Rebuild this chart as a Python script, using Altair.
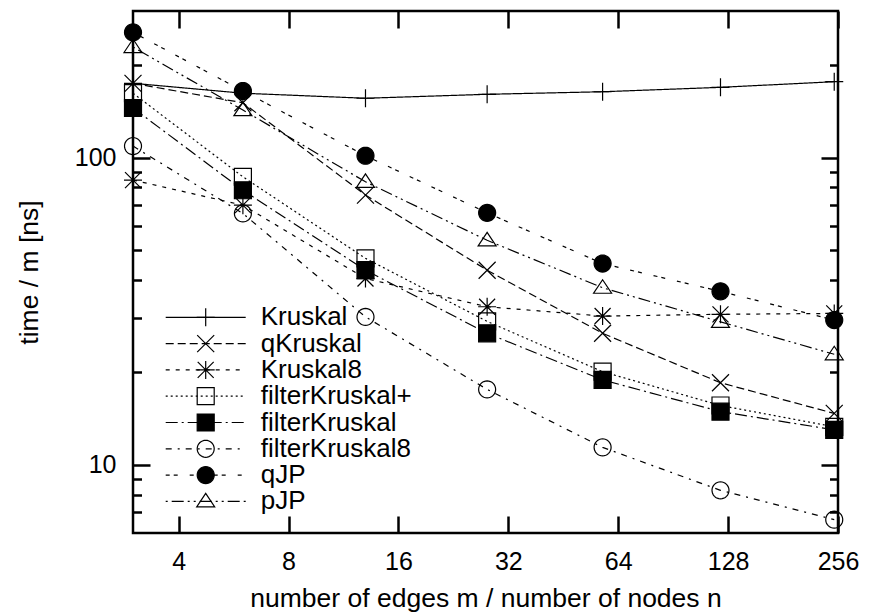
import math
import altair as alt
import pandas as pd

# ---------------- data ----------------
x_vals = [3, 6, 13, 28, 58, 122, 250]
series_names = ["Kruskal", "qKruskal", "Kruskal8", "filterKruskal+",
                "filterKruskal", "filterKruskal8", "qJP", "pJP"]
kruskal = [174.5, 162.0, 156.0, 160.7, 163.8, 169.3, 176.6]
qkruskal = [174.5, 150.8, 75.5, 43.0, 26.8, 18.5, 14.7]
kruskal8 = [84.5, 70.0, 40.4, 32.7, 30.5, 30.9, 31.1]
filterkruskal_plus = [162.0, 86.6, 47.0, 29.3, 20.1, 15.6, 13.3]
filterkruskal = [145.0, 78.3, 43.0, 26.8, 18.9, 14.9, 13.0]
filterkruskal8 = [109.0, 65.8, 30.3, 17.6, 11.4, 8.26, 6.63]
qjp = [255.6, 164.7, 101.4, 66.1, 45.2, 36.7, 29.6]
pjp = [229.0, 142.8, 83.4, 53.8, 37.7, 29.2, 22.9]

x_ticks = [4, 8, 16, 32, 64, 128, 256]
y_major = [10, 100]
y_minor = [7, 8, 9, 20, 30, 40, 50, 60, 70, 80, 90, 200]

series_values = [kruskal, qkruskal, kruskal8, filterkruskal_plus,
                 filterkruskal, filterkruskal8, qjp, pjp]

rows = []
for i, (name, vals) in enumerate(zip(series_names, series_values)):
    for xv, yv in zip(x_vals, vals):
        rows.append({"x": xv, "y": yv, "series": name, "idx": str(i)})
df = pd.DataFrame(rows)
idx_list = [str(i) for i in range(len(series_names))]

# ---------------- styles ----------------
FONT = "Liberation Sans"
W, H = 705, 522

dashes = [[1, 0], [8, 4], [4, 6], [2, 3], [12, 4, 2, 4], [6, 6, 2, 6],
          [4, 4, 4, 12], [2, 4, 12, 4, 2, 4]]

def circle_path(r, n=32):
    pts = [(r * math.cos(2 * math.pi * k / n), r * math.sin(2 * math.pi * k / n)) for k in range(n)]
    return "M" + "L".join(f"{a:.3f},{b:.3f}" for a, b in pts) + "Z"

plus = "M-0.9,0H0.9M0,-0.9V0.9"
cross = "M-0.85,-0.85L0.85,0.85M-0.85,0.85L0.85,-0.85"
star = "M-0.9,0H0.9M0,-0.9V0.9M-0.8,-0.8L0.8,0.8M-0.8,0.8L0.8,-0.8"
square = "M-0.85,-0.85H0.85V0.85H-0.85Z"
circ = circle_path(0.85)
tri = "M0,-0.8L0.9,0.55L-0.9,0.55Z"
shapes = [plus, cross, star, square, square, circ, circ, tri]
fills = ["transparent", "transparent", "transparent", "transparent",
         "black", "transparent", "black", "transparent"]
strokes = ["black"] * len(series_names)

xscale = alt.Scale(type="log", base=2, domain=[3, 256], nice=False)
yscale = alt.Scale(type="log", domain=[6, 300], nice=False)

LX, LY = 59.7, 293.3
leg_common = dict(title=None, orient="none", legendX=LX, legendY=LY,
                  symbolSize=400, symbolStrokeWidth=1.2, symbolStrokeColor="black",
                  labelFontSize=26, labelFont=FONT, rowPadding=0.3, padding=0)

legA = alt.Legend(symbolType="M-4,0H4", labelOffset=42, labelColor="black",
                  symbolFillColor="transparent", **leg_common)
legB = alt.Legend(labelOffset=42, labelExpr="' '", **leg_common)

base = alt.Chart(df)

lines = base.mark_line(stroke="black", strokeWidth=1.2).encode(
    x=alt.X("x:Q", scale=xscale, axis=alt.Axis(
        values=x_ticks, format="d", ticks=False, tickSize=0, domain=False, grid=False,
        labelFontSize=25, labelPadding=16, labelFlush=False, labelOverlap=False,
        title="number of edges m / number of nodes n", titleFontSize=26.5,
        titleBaseline="alphabetic", titleY=73)),
    y=alt.Y("y:Q", scale=yscale, axis=alt.Axis(
        values=y_major, format="d", ticks=False, tickSize=0, domain=False, grid=False,
        labelFontSize=25, labelPadding=17, labelFlush=False, labelOverlap=False,
        title="time / m [ns]", titleFontSize=26.5, titleAngle=270,
        titleBaseline="alphabetic", titleAlign="center", titleX=-96, titleY=H / 2)),
    strokeDash=alt.StrokeDash("series:N", scale=alt.Scale(domain=series_names, range=dashes),
                              legend=legA),
)

points = base.mark_point(size=400, strokeWidth=1.2, opacity=1).encode(
    x=alt.X("x:Q", scale=xscale, axis=None),
    y=alt.Y("y:Q", scale=yscale, axis=None),
    shape=alt.Shape("idx:N", scale=alt.Scale(domain=idx_list, range=shapes), legend=legB),
    fill=alt.Fill("idx:N", scale=alt.Scale(domain=idx_list, range=fills), legend=legB),
    stroke=alt.Stroke("idx:N", scale=alt.Scale(domain=idx_list, range=strokes), legend=legB),
)

def tick_axis(orient, offset, values, size):
    return alt.Axis(orient=orient, offset=offset, values=values, tickSize=size,
                    tickWidth=2.5, tickColor="black", labels=False, domain=False,
                    grid=False, title=None)

ghost = base.mark_point(opacity=0, size=1)

ax1 = ghost.encode(
    x=alt.X("x:Q", scale=xscale, axis=tick_axis("top", -H, x_ticks, 17)),
    y=alt.Y("y:Q", scale=yscale, axis=tick_axis("right", -W, y_major, 17)),
)
ax2 = ghost.encode(
    x=alt.X("x:Q", scale=xscale, axis=tick_axis("bottom", -H, x_ticks, 17)),
    y=alt.Y("y:Q", scale=yscale, axis=tick_axis("left", -W, y_major, 17)),
)
ax3 = ghost.encode(
    x=alt.X("x:Q", scale=xscale, axis=None),
    y=alt.Y("y:Q", scale=yscale, axis=tick_axis("right", -W, y_minor, 8.5)),
)
ax4 = ghost.encode(
    x=alt.X("x:Q", scale=xscale, axis=None),
    y=alt.Y("y:Q", scale=yscale, axis=tick_axis("left", -W, y_minor, 8.5)),
)

chart = alt.layer(lines, points, ax1, ax2, ax3, ax4).resolve_axis(
    x="independent", y="independent"
).properties(
    width=W, height=H,
    autosize=alt.AutoSizeParams(type="none"),
    padding={"left": 125, "top": 3, "right": 22, "bottom": 80},
    background="white",
).configure_view(
    stroke="black", strokeWidth=2.5
).configure_axis(
    labelFont=FONT, titleFont=FONT, labelColor="black", titleColor="black",
    titleFontWeight="normal"
).configure_legend(
    labelFont=FONT
)

chart.save("out.html", embed_options={"renderer": "svg", "actions": False})
